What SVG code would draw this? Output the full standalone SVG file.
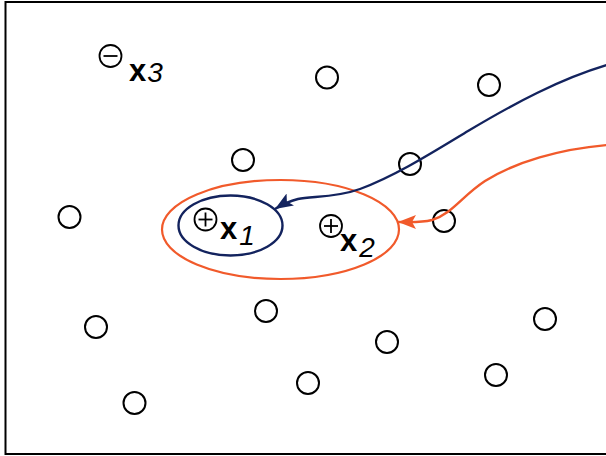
<svg xmlns="http://www.w3.org/2000/svg" width="606" height="456" viewBox="0 0 606 456">
<style>
.pt{fill:none;stroke:#000;stroke-width:2}
.lbl{font-family:"Liberation Sans",Arial,Helvetica,sans-serif;fill:#000}
.bx{font-weight:bold;font-size:31px}
.sub{font-style:italic;font-size:28px}
.sym{fill:none;stroke:#000;stroke-width:1.8}
.navy{fill:none;stroke:#13235E;stroke-width:2.4}
.orange{fill:none;stroke:#F15A2B;stroke-width:2.4}
</style>
<defs>
<marker id="ahN" markerUnits="userSpaceOnUse" markerWidth="20" markerHeight="14" refX="18" refY="7" orient="auto" viewBox="0 0 20 14">
<path d="M0,0 L18,7 L0,14 L4,7 Z" fill="#13235E"/>
</marker>
<marker id="ahO" markerUnits="userSpaceOnUse" markerWidth="20" markerHeight="14" refX="18" refY="7" orient="auto" viewBox="0 0 20 14">
<path d="M0,0 L18,7 L0,14 L4,7 Z" fill="#F15A2B"/>
</marker>
</defs>
<rect x="0" y="0" width="606" height="456" fill="#fff"/>
<rect id="frame" x="5.5" y="2" width="620" height="452" fill="none" stroke="#000" stroke-width="2"/>

<g id="points">
<circle class="pt" cx="327" cy="77.5" r="11"/>
<circle class="pt" cx="489" cy="85" r="11"/>
<circle class="pt" cx="243" cy="160" r="11"/>
<circle class="pt" cx="410" cy="164" r="11"/>
<circle class="pt" cx="69.5" cy="217" r="11"/>
<circle class="pt" cx="444" cy="221" r="11"/>
<circle class="pt" cx="96" cy="327" r="11"/>
<circle class="pt" cx="266" cy="311" r="11"/>
<circle class="pt" cx="387" cy="342" r="11"/>
<circle class="pt" cx="545" cy="319" r="11"/>
<circle class="pt" cx="308" cy="383" r="11"/>
<circle class="pt" cx="496" cy="375" r="11"/>
<circle class="pt" cx="134.5" cy="403" r="11"/>
</g>

<g id="region-outer">
<ellipse cx="280.5" cy="229.5" rx="118.5" ry="49.5" fill="none" stroke="#F15A2B" stroke-width="2.2"/>
</g>
<g id="region-inner">
<ellipse cx="230.5" cy="225.5" rx="52" ry="30" fill="none" stroke="#13235E" stroke-width="2.4"/>
</g>

<g id="x3">
<circle class="sym" cx="110.5" cy="56" r="11"/>
<line class="sym" x1="103.5" y1="56" x2="117.5" y2="56"/>
<text class="lbl" x="129" y="81"><tspan class="bx">x</tspan><tspan class="sub" dx="1" dy="1">3</tspan></text>
</g>
<g id="x1">
<circle class="sym" cx="205.5" cy="219.5" r="11"/>
<line class="sym" x1="198.5" y1="219.5" x2="212.5" y2="219.5"/>
<line class="sym" x1="205.5" y1="212.5" x2="205.5" y2="226.5"/>
<text class="lbl" x="220" y="239"><tspan class="bx">x</tspan><tspan class="sub" dx="2" dy="6">1</tspan></text>
</g>
<g id="x2">
<circle class="sym" cx="331" cy="226" r="11"/>
<line class="sym" x1="324" y1="226" x2="338" y2="226"/>
<line class="sym" x1="331" y1="219" x2="331" y2="233"/>
<text class="lbl" x="340" y="251"><tspan class="bx">x</tspan><tspan class="sub" dx="2" dy="6">2</tspan></text>
</g>

<g id="connectors">
<path class="navy" marker-end="url(#ahN)" d="M607,65 C560,79 515,103 468,131 C430,154 395,176 360,189 C335,198 312,196 298,199 C290,201 283,204 275,209"/>
<path class="orange" marker-end="url(#ahO)" d="M607,145 C560,149 515,162 485,181 C462,196 452,214 432,220 C420,223 410,222 398,222"/>
</g>
</svg>
